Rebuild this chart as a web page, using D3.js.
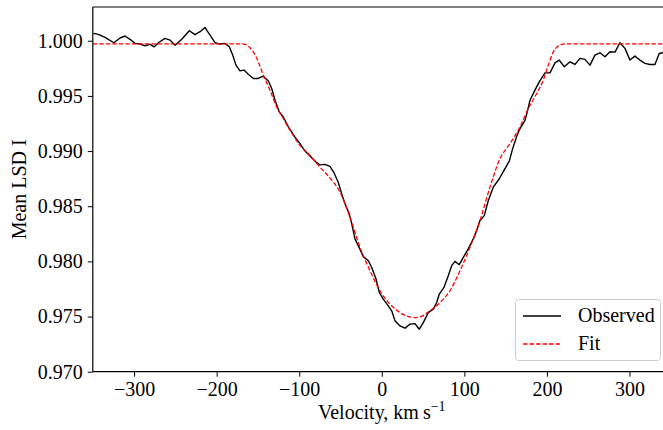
<!DOCTYPE html>
<html>
<head>
<meta charset="utf-8">
<script src="https://cdn.jsdelivr.net/npm/d3@7"></script>
<style>
  html, body { margin: 0; padding: 0; background: #fff; }
  svg { display: block; }
  text { font-family: "Liberation Serif", "Times New Roman", serif; }
</style>
</head>
<body>
<script>
// ---- data ----
const obsVelocity = [-349.4,-343.3,-335.2,-324.5,-317,-311,-305,-298.8,-292.8,-286.7,-280.7,-275.5,-270.6,-262.6,-256.5,-250.4,-242.3,-233.1,-226.2,-220.1,-214.1,-208,-202,-195.9,-189.9,-184.7,-180.6,-176.6,-171.8,-166.9,-161.7,-155.6,-149.6,-143.5,-137.4,-133.3,-129.3,-124.1,-119.3,-113.2,-105.1,-99.1,-93,-87,-79.7,-74.9,-68.9,-62.8,-58,-52.7,-48.6,-44.6,-39.4,-36.4,-32.5,-28.5,-22.4,-16.3,-12.2,-7,-3,1.8,7.9,12,16,22,28.1,34.1,40.2,45.4,50.3,56.3,62.4,66.5,69.6,75.3,80.5,84.6,88.6,93.8,98.7,104.7,110.8,114.9,118.9,124.1,129,135,142.3,148,154.4,158.5,163.4,167.4,173.4,176.2,179.5,185.5,190.7,197.6,203.7,209.7,214.9,221,227.9,233.9,240,246,252.1,258.2,264.2,270.3,276.3,282.4,288.4,294.5,300.5,306.5,312.6,318.7,324.7,330.8,336,340.5];
const obsIntensity = [1.00067,1.00058,1.0003,0.99982,1.00025,1.00043,1.00013,0.99976,0.9997,0.99955,0.99967,0.99945,0.99982,1.00022,1.00006,0.9996,1.00013,1.00091,1.00055,1.00082,1.0012,1.00052,0.99982,0.9997,0.99976,0.99945,0.9987,0.99779,0.99727,0.99734,0.99697,0.99658,0.99658,0.99679,0.99635,0.99567,0.99461,0.99355,0.99309,0.99220,0.99127,0.99067,0.99000,0.98955,0.989,0.98875,0.98879,0.98861,0.98805,0.98715,0.98613,0.98522,0.98431,0.9834,0.98204,0.98143,0.98043,0.98006,0.97945,0.9784,0.97718,0.97658,0.97597,0.97552,0.97461,0.97415,0.97394,0.97431,0.97436,0.97385,0.97445,0.97536,0.97567,0.97627,0.97704,0.97764,0.9787,0.97961,0.98,0.9797,0.98036,0.98113,0.98204,0.98279,0.9837,0.98415,0.98552,0.98673,0.98749,0.98825,0.98909,0.99022,0.99134,0.99204,0.99279,0.99355,0.99461,0.99552,0.99627,0.99709,0.99709,0.998,0.99825,0.99764,0.99809,0.99785,0.9984,0.99831,0.99779,0.9987,0.99891,0.99855,0.999,0.99897,0.99982,0.99931,0.99825,0.99861,0.99825,0.99795,0.99785,0.99785,0.99885,0.99891];

const fitVelocity = [-350,-170,-165.6,-159.6,-155.6,-149.6,-143.5,-135.4,-127.3,-119.3,-111.2,-99.1,-87,-74.9,-62.8,-50.6,-38.5,-26.4,-14.3,-2.2,9.9,22,34.1,40.2,46.3,58.4,70.5,82.6,94.7,106.8,118.9,131,143.1,155.2,167.4,177.4,187.6,195.6,201.7,207.8,213.8,222,350];
const fitIntensity = [0.99972,0.99972,0.99968,0.99936,0.999,0.99809,0.99688,0.99552,0.994,0.99295,0.9919,0.99052,0.98961,0.98855,0.98756,0.98627,0.984,0.98127,0.97915,0.97734,0.97613,0.97536,0.97497,0.97491,0.97497,0.97552,0.97627,0.97734,0.97915,0.98127,0.9837,0.98673,0.98931,0.99067,0.99218,0.99385,0.99522,0.99643,0.99779,0.999,0.99952,0.99972,0.99972];

const xTicks = [-300,-200,-100,0,100,200,300];
const yTicks = [0.970,0.975,0.980,0.985,0.990,0.995,1.000];
const seriesNames = ["Observed","Fit"];

// ---- layout ----
const W = 663, H = 430;
const margin = {left: 92.8, top: 7, bottom: 371.7, right: 670.8};
const FS = "20px";

const svg = d3.select("body").append("svg").attr("width", W).attr("height", H);

const x = d3.scaleLinear().domain([-350, 350]).range([margin.left, margin.right]);
const y = d3.scaleLinear().domain([0.970, 1.00306]).range([margin.bottom, margin.top]);

svg.append("clipPath").attr("id","clip").append("rect")
  .attr("x", margin.left).attr("y", margin.top)
  .attr("width", margin.right - margin.left).attr("height", margin.bottom - margin.top);

const plot = svg.append("g").attr("clip-path","url(#clip)");

const obs = obsVelocity.map((v,i)=>[v, obsIntensity[i]]);
const fit = fitVelocity.map((v,i)=>[v, fitIntensity[i]]);

plot.append("path").datum(obs)
  .attr("fill","none").attr("stroke","#000").attr("stroke-width",1.4)
  .attr("stroke-linejoin","round")
  .attr("d", d3.line().x(d=>x(d[0])).y(d=>y(d[1])));

plot.append("path").datum(fit)
  .attr("fill","none").attr("stroke","#ff0000").attr("stroke-width",1.3)
  .attr("stroke-dasharray","4.5,2")
  .attr("d", d3.line().curve(d3.curveMonotoneX).x(d=>x(d[0])).y(d=>y(d[1])));

// axes
const fmtY = d3.format(".3f");
const fmtX = v => v < 0 ? "\u2212" + Math.abs(v) : String(v);

const xAxis = svg.append("g").attr("transform", `translate(0,${margin.bottom})`)
  .call(d3.axisBottom(x).tickValues(xTicks).tickFormat(fmtX).tickSize(5).tickPadding(5));
const yAxis = svg.append("g").attr("transform", `translate(${margin.left},0)`)
  .call(d3.axisLeft(y).tickValues(yTicks).tickFormat(fmtY).tickSize(5).tickPadding(5));

[xAxis, yAxis].forEach(g => {
  g.select(".domain").remove();
  g.selectAll(".tick line").attr("stroke","#000").attr("stroke-width",1);
  g.selectAll(".tick text").attr("fill","#000").style("font-size",FS)
    .style("font-family", '"Liberation Serif", serif');
});

// spines
svg.append("line").attr("x1",margin.left).attr("x2",margin.left).attr("y1",margin.top).attr("y2",margin.bottom)
  .attr("stroke","#000").attr("stroke-width",1.2);
svg.append("line").attr("x1",margin.left).attr("x2",margin.right).attr("y1",margin.bottom).attr("y2",margin.bottom)
  .attr("stroke","#000").attr("stroke-width",1.2);
svg.append("line").attr("x1",margin.left).attr("x2",margin.right).attr("y1",margin.top).attr("y2",margin.top)
  .attr("stroke","#000").attr("stroke-width",1.2);

// axis labels
const xl = svg.append("text").attr("x", x(0)).attr("y", 419).attr("text-anchor","middle")
  .style("font-size",FS).attr("fill","#000");
xl.append("tspan").text("Velocity, km\u2009s");
xl.append("tspan").attr("dy",-8).style("font-size","14px").text("\u22121");

svg.append("text").attr("transform", `translate(26,${(margin.top+margin.bottom)/2}) rotate(-90)`)
  .attr("text-anchor","middle").style("font-size",FS).attr("fill","#000").text("Mean LSD I");

// legend
const lg = svg.append("g");
lg.append("rect").attr("x",515.5).attr("y",299.5).attr("width",145).attr("height",61).attr("rx",3)
  .attr("fill","#fff").attr("fill-opacity",0.8).attr("stroke","#ccc").attr("stroke-width",1);
const styles = [{stroke:"#000", dash:null, w:1.4},{stroke:"#ff0000", dash:"4.5,2", w:1.3}];
seriesNames.forEach((name,i) => {
  const yy = 316 + i*28;
  lg.append("line").attr("x1",523).attr("x2",561).attr("y1",yy).attr("y2",yy)
    .attr("stroke",styles[i].stroke).attr("stroke-width",styles[i].w)
    .attr("stroke-dasharray",styles[i].dash);
  lg.append("text").attr("x",578).attr("y",yy+6).style("font-size",FS).attr("fill","#000").text(name);
});
</script>
</body>
</html>
